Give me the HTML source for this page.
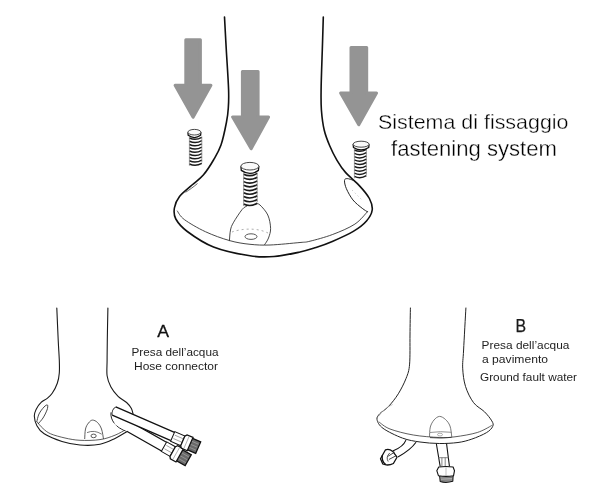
<!DOCTYPE html>
<html><head><meta charset="utf-8">
<style>
html,body{margin:0;padding:0;background:#fff;width:600px;height:495px;overflow:hidden}
svg{display:block;will-change:transform}
text{font-family:"Liberation Sans",sans-serif;fill:#1e1e1e}
</style></head><body>
<svg width="600" height="495" viewBox="0 0 600 495">
<g fill="#949494" stroke="#949494" stroke-width="3" stroke-linejoin="round">
<path d="M185.80,39.80 L200.40,39.80 L200.40,85.30 L210.94,85.30 L193.09,117.24 L175.07,85.30 L185.80,85.30 Z"/>
<path d="M242.40,71.50 L258.10,71.50 L258.10,117.00 L268.57,117.00 L251.16,148.75 L232.61,117.00 L242.40,117.00 Z"/>
<path d="M351.00,47.50 L366.70,47.50 L366.70,93.00 L376.54,93.00 L358.78,124.76 L340.59,93.00 L351.00,93.00 Z"/>
</g>
<path fill="none" stroke="#111" stroke-width="1.6" stroke-linecap="round" d="M224.5,17.0 C224.8,22.5 225.6,37.8 226.3,50.0 C227.0,62.2 228.3,80.3 228.6,90.0 C228.9,99.7 228.7,102.7 228.3,108.0 C228.0,113.3 227.7,115.8 226.5,122.0 C225.3,128.2 223.2,138.7 221.0,145.0 C218.8,151.3 216.4,155.0 213.5,160.0 C210.6,165.0 206.9,170.8 203.3,175.0 C199.7,179.2 196.0,181.4 192.0,185.0 C188.0,188.6 182.4,192.7 179.5,196.5 C176.6,200.3 175.0,204.2 174.4,208.0 C173.8,211.8 173.7,215.1 175.8,219.0 C178.0,222.9 181.0,226.8 187.3,231.5 C193.6,236.2 203.1,242.9 213.5,247.0 C223.9,251.1 239.9,254.2 250.0,255.8 C260.1,257.4 265.7,257.1 274.0,256.5 C282.3,255.9 293.0,253.5 300.0,252.0 C307.0,250.5 310.6,249.2 316.0,247.5 C321.4,245.8 326.1,244.2 332.3,241.5 C338.5,238.8 347.6,234.8 353.3,231.4 C359.0,228.0 363.4,224.6 366.5,221.0 C369.6,217.4 371.7,213.8 372.2,210.0 C372.7,206.2 371.5,202.6 369.4,198.5 C367.2,194.4 363.3,189.9 359.3,185.6 C355.3,181.2 349.2,176.6 345.5,172.4 C341.8,168.2 339.6,164.7 337.0,160.3 C334.4,155.9 331.8,150.9 329.7,145.8 C327.6,140.8 325.6,136.0 324.2,130.0 C322.8,124.0 321.9,116.7 321.4,110.0 C320.9,103.3 321.0,100.0 321.1,90.0 C321.2,80.0 321.9,62.2 322.3,50.0 C322.7,37.8 323.1,22.5 323.3,17.0"/>
<path fill="none" stroke="#333" stroke-width="0.9" d="M177.1,210.7 C178.3,212.2 179.7,216.1 184.4,219.6 C189.1,223.1 197.9,228.2 205.4,231.7 C212.9,235.2 222.2,238.5 229.6,240.6 C237.0,242.7 243.3,243.6 250.0,244.3 C256.7,245.0 261.7,245.3 270.0,245.0 C278.3,244.7 293.3,243.1 300.0,242.5 C306.7,241.9 304.6,242.5 310.0,241.2 C315.4,239.9 324.8,237.4 332.3,234.6 C339.8,231.8 349.0,228.0 354.9,224.1 C360.8,220.2 365.7,213.3 367.9,211.2"/>
<path fill="none" stroke="#333" stroke-width="0.9" d="M229.4,241.1 C229.6,239.2 229.8,233.1 230.5,230.0 C231.2,226.9 231.4,226.2 233.3,222.8 C235.2,219.4 239.9,212.2 242.2,209.4 C244.5,206.6 246.2,206.6 247.0,206.0 M256.0,203.5 C256.7,203.8 258.0,203.1 260.0,205.0 C262.0,206.9 266.0,211.1 267.8,215.0 C269.6,218.9 270.5,224.5 270.6,228.3 C270.7,232.1 269.5,235.2 268.5,238.0 C267.5,240.8 265.1,243.8 264.4,245.0"/>
<path fill="none" stroke="#999" stroke-width="0.8" stroke-dasharray="2 3" d="M232,232 C240,229 256,227 268,233"/>
<ellipse fill="none" cx="251" cy="236.6" rx="6" ry="2.8" stroke-width="0.9" stroke="#444"/>
<path fill="none" stroke="#222" stroke-width="1" d="M353.0,180.2 C352.0,179.9 348.6,178.5 347.2,178.6 C345.8,178.7 344.6,178.8 344.5,180.5 C344.4,182.2 345.0,185.5 346.4,188.7 C347.8,191.9 350.3,196.6 352.9,199.9 C355.5,203.2 359.7,206.3 362.2,208.3 C364.7,210.3 366.9,211.4 367.8,212.0"/>
<path fill="none" stroke="#999" stroke-width="0.7" stroke-dasharray="1 3" d="M352,190 L362,200"/>
<path fill="none" stroke="#444" stroke-width="0.8" d="M197.5,183.5 C194,186.5 190,189.5 185.5,192.3"/>
<path d="M189.4,138.0 Q195.6,140.9 201.8,137.3 M189.4,141.2 Q195.6,144.2 201.8,140.6 M189.4,144.5 Q195.6,147.4 201.8,143.8 M189.4,147.7 Q195.6,150.7 201.8,147.1 M189.4,151.0 Q195.6,153.9 201.8,150.3 M189.4,154.2 Q195.6,157.2 201.8,153.6 M189.4,157.5 Q195.6,160.4 201.8,156.8 M189.4,160.8 Q195.6,163.7 201.8,160.1 M189.4,164.0 Q195.6,166.9 201.8,163.4" stroke="#1a1a1a" stroke-width="1.5" fill="none"/>
<path d="M189.4,136.5 L189.4,165.8 M201.8,136.5 L201.8,162.5" stroke="#777" stroke-width="0.7" fill="none"/>
<path d="M187.9,132.2 L188.2,135.3 Q194.4,139.8 200.6,135.3 L200.9,132.2" fill="#fff" stroke="#111" stroke-width="1.3"/>
<ellipse cx="194.4" cy="132.2" rx="6.5" ry="2.8" fill="#fafafa" stroke="#333" stroke-width="0.9"/>
<path d="M243.6,174.2 Q250.4,177.5 257.2,173.4 M243.6,177.9 Q250.4,181.2 257.2,177.2 M243.6,181.6 Q250.4,185.0 257.2,180.9 M243.6,185.3 Q250.4,188.7 257.2,184.6 M243.6,189.1 Q250.4,192.4 257.2,188.3 M243.6,192.8 Q250.4,196.1 257.2,192.0 M243.6,196.5 Q250.4,199.9 257.2,195.8 M243.6,200.2 Q250.4,203.6 257.2,199.5 M243.6,204.0 Q250.4,207.3 257.2,203.2" stroke="#1a1a1a" stroke-width="1.6" fill="none"/>
<path d="M243.6,172.5 L243.6,206.0 M257.2,172.5 L257.2,202.3" stroke="#777" stroke-width="0.7" fill="none"/>
<path d="M240.9,166.2 L241.3,170.4 Q249.9,176.5 258.4,170.4 L258.9,166.2" fill="#fff" stroke="#111" stroke-width="1.3"/>
<ellipse cx="249.9" cy="166.2" rx="9.0" ry="3.8" fill="#fafafa" stroke="#333" stroke-width="0.9"/>
<path d="M354.4,150.0 Q360.4,153.0 366.4,149.3 M354.4,153.3 Q360.4,156.3 366.4,152.6 M354.4,156.6 Q360.4,159.6 366.4,155.9 M354.4,159.9 Q360.4,162.9 366.4,159.2 M354.4,163.2 Q360.4,166.2 366.4,162.5 M354.4,166.5 Q360.4,169.5 366.4,165.8 M354.4,169.8 Q360.4,172.8 366.4,169.1 M354.4,173.1 Q360.4,176.1 366.4,172.4 M354.4,176.4 Q360.4,179.4 366.4,175.7" stroke="#1a1a1a" stroke-width="1.5" fill="none"/>
<path d="M354.4,148.5 L354.4,178.2 M366.4,148.5 L366.4,174.9" stroke="#777" stroke-width="0.7" fill="none"/>
<path d="M353.1,144.2 L353.5,147.5 Q361.1,152.3 368.7,147.5 L369.1,144.2" fill="#fff" stroke="#111" stroke-width="1.3"/>
<ellipse cx="361.1" cy="144.2" rx="8.0" ry="3.0" fill="#fafafa" stroke="#333" stroke-width="0.9"/>
<text x="378" y="128.6" font-size="21" style="fill:#000;stroke:#fff;stroke-width:0.35px" textLength="190.5" lengthAdjust="spacingAndGlyphs">Sistema di fissaggio</text>
<text x="391" y="155.8" font-size="21.5" style="fill:#000;stroke:#fff;stroke-width:0.35px" textLength="166" lengthAdjust="spacingAndGlyphs">fastening system</text>
<text x="157.3" y="337" font-size="16.8" style="fill:#111;stroke:#111;stroke-width:0.3px" textLength="11.8" lengthAdjust="spacingAndGlyphs">A</text>
<text x="131.5" y="355.6" font-size="11" textLength="87" lengthAdjust="spacingAndGlyphs">Presa dell’acqua</text>
<text x="134" y="370" font-size="11" textLength="84" lengthAdjust="spacingAndGlyphs">Hose connector</text>
<text x="515.6" y="331.8" font-size="17.5" style="fill:#1a1a1a;stroke:#1a1a1a;stroke-width:0.25px" textLength="10.6" lengthAdjust="spacingAndGlyphs">B</text>
<text x="481.6" y="349" font-size="11" textLength="87.8" lengthAdjust="spacingAndGlyphs">Presa dell’acqua</text>
<text x="482" y="363" font-size="11" textLength="66" lengthAdjust="spacingAndGlyphs">a pavimento</text>
<text x="480" y="380.6" font-size="11.6" textLength="97" lengthAdjust="spacingAndGlyphs">Ground fault water</text>
<path fill="none" stroke="#1a1a1a" stroke-width="1.1" stroke-linecap="round" d="M56.8,308.0 C57.0,313.3 57.8,331.3 58.2,340.0 C58.6,348.7 59.1,354.5 59.3,360.0 C59.5,365.5 59.6,369.1 59.3,373.0 C59.0,376.9 58.5,379.8 57.3,383.2 C56.1,386.6 53.9,390.8 52.2,393.3 C50.5,395.8 49.1,396.9 47.2,398.4 C45.4,399.9 43.0,400.5 41.1,402.4 C39.2,404.2 37.2,407.2 36.1,409.5 C35.0,411.8 34.2,413.3 34.3,416.0 C34.4,418.7 35.2,422.7 36.9,425.7 C38.5,428.7 40.0,431.2 44.2,433.8 C48.4,436.4 56.0,439.6 62.0,441.5 C68.0,443.4 73.7,444.5 80.0,445.0 C86.3,445.5 94.2,445.4 100.0,444.3 C105.8,443.2 110.5,440.6 115.0,438.5 C119.5,436.4 124.8,432.8 126.7,431.7"/>
<path fill="none" stroke="#1a1a1a" stroke-width="1.1" stroke-linecap="round" d="M107.9,308.0 C107.8,313.3 107.4,331.3 107.3,340.0 C107.2,348.7 107.1,354.0 107.1,360.0 C107.1,366.0 106.5,371.4 107.1,375.8 C107.7,380.2 109.0,383.3 110.8,386.7 C112.6,390.1 115.5,393.8 118.1,396.4 C120.7,399.0 124.4,400.5 126.6,402.5 C128.8,404.5 130.3,406.5 131.4,408.5 C132.5,410.5 132.9,413.6 133.2,414.6"/>
<path fill="none" stroke="#333" stroke-width="0.8" d="M36.9,421.7 C37.9,422.8 40.7,426.5 43.0,428.5 C45.3,430.5 46.9,432.2 50.6,433.8 C54.3,435.4 60.1,436.9 65.0,438.0 C69.9,439.1 74.2,440.0 80.0,440.3 C85.8,440.6 94.2,440.5 100.0,439.6 C105.8,438.8 110.7,436.9 115.0,435.2 C119.3,433.5 124.2,430.4 126.0,429.5"/>
<path fill="none" stroke="#333" stroke-width="0.9" d="M36.7,422.0 C37.1,420.7 37.8,416.5 39.0,414.0 C40.2,411.5 42.6,408.5 44.0,407.0 C45.4,405.5 47.0,404.5 47.5,405.0 C48.0,405.5 47.8,407.8 47.0,410.0 C46.2,412.2 44.5,415.7 43.0,418.0 C41.5,420.3 38.8,423.0 38.0,424.0"/>
<path fill="none" stroke="#333" stroke-width="0.8" d="M84.7,439.0 C84.8,437.3 84.9,431.7 85.5,429.0 C86.1,426.3 87.3,424.5 88.5,423.0 C89.7,421.5 90.9,420.2 92.4,420.1 C93.9,420.0 96.0,421.0 97.5,422.5 C99.0,424.0 100.5,426.2 101.5,429.0 C102.5,431.8 103.2,437.3 103.5,439.0"/>
<path fill="none" stroke="#555" stroke-width="0.8" d="M87,432.6 Q94.4,429.5 101.7,434.2"/>
<ellipse fill="none" cx="93.6" cy="435.9" rx="2.6" ry="1.8" stroke-width="0.9" stroke="#444"/>
<path fill="#fff" stroke="none" d="M111,412.4 C110,420 116,428 126.7,431.3 L132,424 L120,412 Z"/>
<path fill="none" stroke="#222" stroke-width="1" d="M111,412.4 C110,420 116,428 126.7,431.3"/>
<g transform="translate(129.2,426.9) rotate(29.5)">
<path d="M-14,-5.0 L40,-5.0 L40,5.0 L-14,5.0 Q-17,0 -14,-5.0 Z" fill="#fff" stroke="none"/>
<path d="M-14,-5.0 L40,-5.0 M0,5.0 L40,5.0" stroke="#111" stroke-width="1.3" fill="none"/>
<path d="M40,-5.5 L50,-5.5 L50,5.5 L40,5.5 Z" fill="#fff" stroke="#111" stroke-width="1"/>
<path d="M41.5,-2.2 L50,-2.2 M41.5,1.65 L50,1.65" stroke="#777" stroke-width="0.6" fill="none"/>
<path d="M54.8,-6.25 L67.8,-6.25 L67.8,6.25 L54.8,6.25 Z" fill="#6a6a6a" stroke="#111" stroke-width="1.3"/>
<path d="M56.8,-3.25 L66.8,-3.25 M56.8,0 L66.8,0 M56.8,3.25 L66.8,3.25" stroke="#999" stroke-width="0.8" fill="none"/>
<path d="M50,-5.5 L51.5,-7.5 L58,-7.5 L58,7.5 L51.5,7.5 L50,5.5 Z" fill="#fff" stroke="#111" stroke-width="1.3"/>
<path d="M54.0,-6.5 L54.0,6.5" stroke="#888" stroke-width="0.6"/>
</g>
<g transform="translate(114,411) rotate(23.5)">
<path d="M0,-4.5 L64,-4.5 L64,4.5 L0,4.5 Q-3,0 0,-4.5 Z" fill="#fff" stroke="none"/>
<path d="M0,-4.5 L64,-4.5 M0,4.5 L64,4.5" stroke="#111" stroke-width="1.3" fill="none"/>
<path d="M0,-4.5 Q-3,0 0,4.5" stroke="#333" stroke-width="0.9" fill="none"/>
<path d="M64,-5.25 L75,-5.25 L75,5.25 L64,5.25 Z" fill="#fff" stroke="#111" stroke-width="1"/>
<path d="M65.5,-2.1 L75,-2.1 M65.5,1.575 L75,1.575" stroke="#777" stroke-width="0.6" fill="none"/>
<path d="M79.8,-6.25 L91.8,-6.25 L91.8,6.25 L79.8,6.25 Z" fill="#6a6a6a" stroke="#111" stroke-width="1.3"/>
<path d="M81.8,-3.25 L90.8,-3.25 M81.8,0 L90.8,0 M81.8,3.25 L90.8,3.25" stroke="#999" stroke-width="0.8" fill="none"/>
<path d="M75,-5.25 L76.5,-7.25 L83,-7.25 L83,7.25 L76.5,7.25 L75,5.25 Z" fill="#fff" stroke="#111" stroke-width="1.3"/>
<path d="M79.0,-6.25 L79.0,6.25" stroke="#888" stroke-width="0.6"/>
</g>
<path fill="none" stroke="#222" stroke-width="1.0" stroke-linecap="round" d="M410.4,308.0 C410.3,312.5 410.1,325.6 410.0,335.0 C409.9,344.4 410.2,356.9 409.6,364.1 C409.0,371.3 408.0,373.4 406.1,378.3 C404.2,383.2 401.2,389.1 398.3,393.8 C395.4,398.5 391.5,403.3 388.4,406.6 C385.3,409.9 381.8,411.5 379.9,413.6 C378.0,415.8 376.5,417.1 377.0,419.5 C377.5,421.9 378.8,425.2 383.0,428.3 C387.2,431.4 396.3,435.8 402.5,438.1 C408.7,440.4 413.9,441.1 420.0,442.0 C426.1,442.9 433.0,443.4 439.3,443.5 C445.6,443.6 452.6,443.2 458.0,442.5 C463.4,441.8 467.1,440.7 471.8,439.1 C476.5,437.5 482.9,434.8 486.4,432.7 C489.9,430.6 491.8,428.4 492.7,426.4 C493.6,424.4 493.2,423.3 491.8,420.9 C490.4,418.5 487.5,414.8 484.5,411.8 C481.5,408.8 476.8,406.9 473.6,402.7 C470.4,398.5 467.3,392.1 465.5,386.4 C463.7,380.6 463.0,374.3 462.7,368.2 C462.4,362.1 463.1,360.0 463.6,350.0 C464.1,340.0 465.5,315.0 465.9,308.0"/>
<path fill="none" stroke="#333" stroke-width="0.8" d="M378.7,421.8 C380.6,423.0 384.2,426.8 390.0,429.0 C395.8,431.2 405.1,433.6 413.3,435.0 C421.5,436.4 432.4,437.2 439.3,437.5 C446.2,437.8 448.7,437.6 455.0,436.8 C461.3,436.0 471.2,434.4 477.3,432.5 C483.4,430.6 489.4,426.7 491.8,425.5"/>
<path fill="none" stroke="#aaa" stroke-width="0.7" d="M378.5,416.5 C382,411 387,407 392.6,404.5"/>
<path fill="none" stroke="#555" stroke-width="0.8" d="M429.5,437.0 C429.6,435.3 429.6,429.8 430.3,427.0 C431.1,424.2 432.5,421.8 434.0,420.0 C435.5,418.2 437.6,416.5 439.5,416.4 C441.4,416.3 443.8,417.9 445.5,419.5 C447.2,421.1 448.9,423.1 450.0,426.0 C451.1,428.9 451.5,435.2 451.8,437.0"/>
<path fill="none" stroke="#777" stroke-width="0.8" d="M430,432.5 Q440,431 451.5,432.3"/><path fill="none" stroke="#333" stroke-width="0.9" d="M430,437.6 Q440,438.5 451.5,437.4"/>
<ellipse fill="none" cx="440" cy="434.6" rx="2.5" ry="1.4" stroke-width="0.7" stroke="#888"/>
<g stroke="#111" stroke-linecap="round" stroke-linejoin="round">
<path fill="#fff" stroke="none" d="M405.8,440.4 C404,445 400,448 393.3,450.8 L398.3,456.7 C405,453 412,448 415.8,442.5 Z"/>
<path fill="none" stroke-width="1.1" d="M405.8,440.4 C404,445 400,448 393.3,450.8 M415.8,442.5 C412,448 405,453 398.3,456.7"/>
<path fill="#fff" stroke-width="1.3" d="M380.5,458.7 L385.5,449.8 Q389,448.3 392.8,451.4 L397,457.2 L393.4,463.5 Q388,466.2 382.8,464 Z"/>
<path fill="none" stroke-width="1.3" d="M382.3,455.5 Q381.5,461.5 385.5,464.3"/>
<path fill="none" stroke-width="0.9" stroke="#444" d="M389.5,453.2 Q385.5,457 388,461.2"/>
<path fill="none" stroke-width="0.9" stroke="#333" d="M388.5,456 L394.3,452.3 M389.3,459.3 L396,455.8"/>
<path fill="#fff" stroke="none" d="M436.4,444 L440.1,466 L449.4,466 L446.6,444 Z"/>
<path fill="none" stroke-width="1.1" d="M436.4,444 L440.1,466 M446.6,444 L449.4,466"/>
<path fill="none" stroke-width="0.8" stroke="#666" d="M438.6,457.7 H448.3 M441.9,458 V466 M445.2,458 V466"/>
<path fill="#b0b0b0" stroke-width="1.1" d="M439.6,475.5 L453.1,475.5 L452.8,481.3 Q446,483.3 440.2,481.5 Z"/>
<path fill="none" stroke-width="0.7" stroke="#555" d="M441.5,478 L451.5,477.5 M441.5,480.3 L451.5,480"/>
<path fill="#fff" stroke-width="1.1" d="M438.7,467 Q446,466 453.1,467 L454.5,470.7 L453.5,475.8 Q446,477 438.5,475.8 L436.8,470.7 Z"/>
<path fill="none" stroke-width="0.6" stroke="#999" d="M446,467.5 V475"/>
</g>
</svg>
</body></html>
